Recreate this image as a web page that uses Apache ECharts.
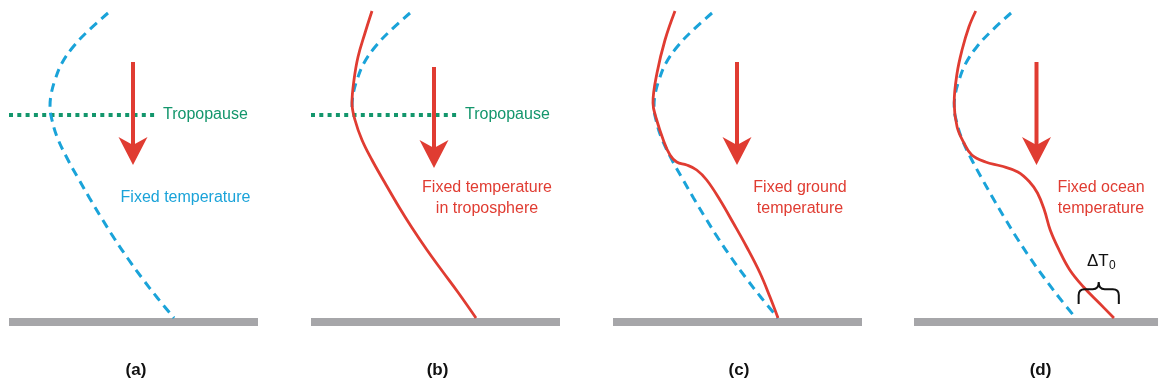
<!DOCTYPE html>
<html><head><meta charset="utf-8">
<script src="https://cdn.jsdelivr.net/npm/echarts@6/dist/echarts.min.js"></script>
<style>html,body{margin:0;padding:0;background:#fff}#c{width:1159px;height:387px}</style>
</head><body><div id="c"></div>
<script>
// ---- data: [temperature offset, altitude] ----
const panelTags = ['(a)', '(b)', '(c)', '(d)'];
const blueProfile = [[99,305],[78,286],[64,271],[53,255],[46,238],[42,223],[41,211],[43,198],[48.5,180],[58,160],[69,140],[80.5,120],[92.5,100],[105,80],[118.5,60],[133,40],[148.5,20],[165,0]];
const blueUpperCount = 7; // panel (b): only the part above the tropopause is visible
const redB = [[61,307],[54,285],[47,261],[43,238],[41,215],[44,198],[51,178],[61,158],[74,135],[88,111],[100.5,91],[116,68],[130.5,48],[147.5,25],[165,0]];
const redC = [[62,307],[52,278],[44,245],[40,215],[43.7,198],[50.3,178],[57,163],[63.7,156],[73.7,153],[83.7,148],[93.7,138],[107,118],[120.3,95],[133.7,71],[147,45],[157,21],[165,0]];
const redD = [[63,307],[56,291],[49,268],[44,245],[41,215],[44,191],[51,175],[59,163],[73,156],[89,152],[106,146],[118,136],[126,125],[133,108],[139,88],[148,68],[159,48],[173,31],[189,15],[204,0]];
const tropopause = [[0,203],[146,203]];
const arrowsData = [[124,256,153],[123,251,150],[124,256,153],[125,256,153]]; // [temp, top alt, tip alt]
const groundSpan = [0,249];
const deltaT0 = [168,209,14,36]; // [T left, T right, base alt, cusp alt]
const captions = [['Fixed temperature'], ['Fixed temperature','in troposphere'], ['Fixed ground','temperature'], ['Fixed ocean','temperature']];

// ---- styling ----
const RED = '#e03c32', BLUE = '#1aa3d9', GREEN = '#13966c', GRAY = '#a6a6a9';
const FONT = '"Liberation Sans", Arial, Helvetica, sans-serif';
const lefts = [9, 311, 613, 914];

const grid = [], xAxis = [], yAxis = [], series = [];
lefts.forEach((l, i) => {
  grid.push({left: l, top: 0, width: 250, height: 326});
  xAxis.push({type: 'value', gridIndex: i, min: 0, max: 250, show: false});
  yAxis.push({type: 'value', gridIndex: i, min: -8, max: 318, show: false});
});

function lineSeries(i, data, color, dashed, z) {
  return {type: 'line', xAxisIndex: i, yAxisIndex: i, data: data, smooth: 0.4,
    symbol: 'none', showSymbol: false, silent: true, z: z, animation: false,
    lineStyle: {color: color, width: dashed ? 3 : 2.8, type: dashed ? [9, 6] : 'solid', cap: 'butt'}};
}

// ground bars
lefts.forEach((l, i) => {
  series.push({type: 'custom', xAxisIndex: i, yAxisIndex: i, z: 1, silent: true, animation: false,
    data: [groundSpan],
    renderItem: (p, api) => {
      const a = api.coord([api.value(0), 0]);
      const b = api.coord([api.value(1), 0]);
      return {type: 'rect', shape: {x: a[0], y: a[1], width: b[0] - a[0], height: 8}, style: {fill: GRAY}};
    }});
});

// tropopause in (a) and (b)
[0, 1].forEach(i => {
  series.push({type: 'line', xAxisIndex: i, yAxisIndex: i, data: tropopause, symbol: 'none', showSymbol: false,
    silent: true, z: 1, animation: false,
    lineStyle: {color: GREEN, width: 4, type: [4, 4.3], cap: 'butt'},
    endLabel: {show: true, formatter: 'Tropopause', color: GREEN, fontSize: 16, fontFamily: FONT, distance: 8}});
});

// blue reference profiles
series.push(lineSeries(0, blueProfile, BLUE, true, 2));
series.push(lineSeries(1, blueProfile.slice(0, blueUpperCount), BLUE, true, 2));
series.push(lineSeries(2, blueProfile, BLUE, true, 2));
series.push(lineSeries(3, blueProfile, BLUE, true, 2));
// red perturbed profiles
series.push(lineSeries(1, redB, RED, false, 3));
series.push(lineSeries(2, redC, RED, false, 3));
series.push(lineSeries(3, redD, RED, false, 3));

// arrows
arrowsData.forEach((d, i) => {
  series.push({type: 'custom', xAxisIndex: i, yAxisIndex: i, z: 4, silent: true, animation: false,
    data: [d],
    renderItem: (p, api) => {
      const top = api.coord([api.value(0), api.value(1)]);
      const tip = api.coord([api.value(0), api.value(2)]);
      const hw = 14.5, hh = 28, notch = 20;
      return {type: 'group', children: [
        {type: 'line', shape: {x1: top[0], y1: top[1], x2: tip[0], y2: tip[1] - notch}, style: {stroke: RED, lineWidth: 4}},
        {type: 'polygon', shape: {points: [[tip[0], tip[1]], [tip[0] - hw, tip[1] - hh], [tip[0], tip[1] - notch], [tip[0] + hw, tip[1] - hh]]}, style: {fill: RED}}
      ]};
    }});
});

// delta T0 brace in (d)
series.push({type: 'custom', xAxisIndex: 3, yAxisIndex: 3, z: 5, silent: true, animation: false,
  data: [deltaT0],
  renderItem: (p, api) => {
    const l = api.coord([api.value(0), api.value(2)]);
    const r = api.coord([api.value(1), api.value(2)]);
    const c = api.coord([(api.value(0) + api.value(1)) / 2, api.value(3)]);
    const x1 = l[0], x2 = r[0], yb = l[1], xm = c[0], yc = c[1];
    const yh = yc + (yb - yc) * 0.33, rr = 6;
    const d = `M${x1},${yb} L${x1},${yh + rr} Q${x1},${yh} ${x1 + rr},${yh} L${xm - rr},${yh} Q${xm},${yh} ${xm},${yc} Q${xm},${yh} ${xm + rr},${yh} L${x2 - rr},${yh} Q${x2},${yh} ${x2},${yh + rr} L${x2},${yb}`;
    return {type: 'path', shape: {pathData: d}, style: {stroke: '#111', lineWidth: 2, fill: null}};
  }});

// texts
const graphic = [];
const capPos = [[185.5, 198, BLUE], [487, 198.5, RED], [800, 198.5, RED], [1101, 198.5, RED]];
captions.forEach((lines, i) => {
  graphic.push({type: 'text', silent: true, style: {text: lines.join('\n'), x: capPos[i][0], y: capPos[i][1],
    align: 'center', verticalAlign: 'middle', textAlign: 'center', textVerticalAlign: 'middle',
    fill: capPos[i][2], font: '16px ' + FONT, lineHeight: 21}});
});
const tagX = [136, 437.5, 739, 1040.5];
panelTags.forEach((t, i) => {
  graphic.push({type: 'text', silent: true, style: {text: t, x: tagX[i], y: 370, align: 'center', verticalAlign: 'middle',
    textAlign: 'center', textVerticalAlign: 'middle', fill: '#111', font: 'bold 17px ' + FONT}});
});
graphic.push({type: 'text', silent: true, style: {text: 'ΔT', x: 1087, y: 261, align: 'left', verticalAlign: 'middle',
  textAlign: 'left', textVerticalAlign: 'middle', fill: '#111', font: '17px ' + FONT}});
graphic.push({type: 'text', silent: true, style: {text: '0', x: 1109, y: 266, align: 'left', verticalAlign: 'middle',
  textAlign: 'left', textVerticalAlign: 'middle', fill: '#111', font: '12px ' + FONT}});

const chart = echarts.init(document.getElementById('c'), null, {renderer: 'canvas'});
chart.setOption({animation: false, backgroundColor: '#fff', grid, xAxis, yAxis, series, graphic});
</script></body></html>
